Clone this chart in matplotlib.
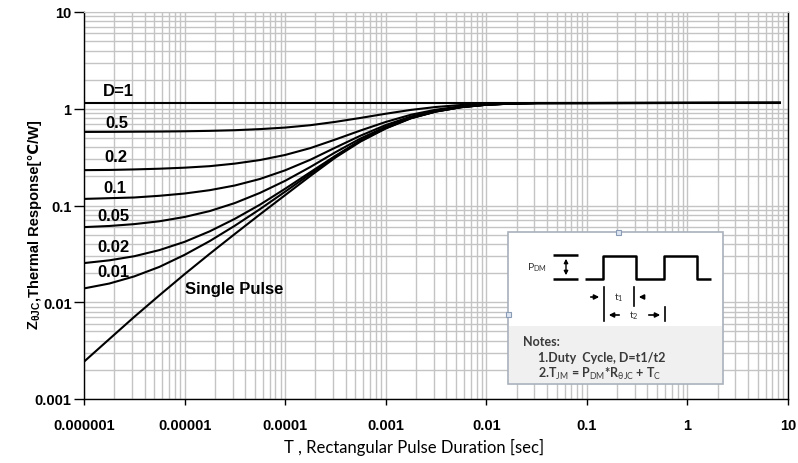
import matplotlib
matplotlib.use('Agg')
import matplotlib.pyplot as plt
from matplotlib.ticker import LogLocator, NullFormatter, FixedLocator, FixedFormatter
from matplotlib.patches import Rectangle

plt.rcParams['font.family'] = ['Liberation Sans', 'DejaVu Sans']
plt.rcParams['mathtext.fontset'] = 'custom'
plt.rcParams['mathtext.rm'] = 'Lato'
plt.rcParams['mathtext.bf'] = 'Liberation Sans:bold'
plt.rcParams['mathtext.fallback'] = 'stixsans'

# rectangular pulse duration [sec]
t = [1e-6, 1.78e-6, 3.16e-6, 5.62e-6, 1e-5, 1.78e-5, 3.16e-5, 5.62e-5, 1e-4, 1.78e-4,
     3.16e-4, 5.62e-4, 1e-3, 1.78e-3, 3.16e-3, 5.62e-3, 1e-2, 1.78e-2, 3.16e-2, 8.5]

# thermal response Z_thJC [C/W] for each duty cycle
z_d1 = [1.15] * 20
z_d05 = [0.576, 0.577, 0.579, 0.581, 0.585, 0.591, 0.600, 0.616, 0.639, 0.676,
         0.732, 0.804, 0.888, 0.973, 1.043, 1.094, 1.125, 1.141, 1.147, 1.15]
z_d02 = [0.232, 0.233, 0.236, 0.240, 0.246, 0.255, 0.271, 0.295, 0.333, 0.392,
         0.481, 0.596, 0.730, 0.867, 0.978, 1.060, 1.109, 1.135, 1.145, 1.15]
z_d01 = [0.117, 0.119, 0.121, 0.126, 0.133, 0.144, 0.161, 0.188, 0.231, 0.297,
         0.397, 0.527, 0.678, 0.831, 0.957, 1.048, 1.104, 1.133, 1.145, 1.15]
z_d005 = [0.0598, 0.0614, 0.0642, 0.0687, 0.0761, 0.0876, 0.106, 0.135, 0.180, 0.250,
          0.355, 0.493, 0.651, 0.814, 0.946, 1.043, 1.102, 1.132, 1.144, 1.15]
z_d002 = [0.0254, 0.0271, 0.0299, 0.0346, 0.0421, 0.0541, 0.0728, 0.102, 0.149, 0.221,
          0.326, 0.472, 0.636, 0.803, 0.939, 1.039, 1.100, 1.131, 1.144, 1.15]
z_d001 = [0.0139, 0.0156, 0.0185, 0.0232, 0.0309, 0.0429, 0.0618, 0.0917, 0.139, 0.212,
          0.322, 0.465, 0.630, 0.800, 0.937, 1.038, 1.100, 1.131, 1.144, 1.15]
z_single = [0.00243, 0.00415, 0.00706, 0.0118, 0.0195, 0.0317, 0.0508, 0.0810, 0.128, 0.202,
            0.313, 0.458, 0.625, 0.796, 0.935, 1.037, 1.099, 1.131, 1.144, 1.15]

curves = [z_d1, z_d05, z_d02, z_d01, z_d005, z_d002, z_d001, z_single]
labels = ['D=1', '0.5', '0.2', '0.1', '0.05', '0.02', '0.01', 'Single Pulse']
label_pos = [(1.55e-6, 1.55), (1.62e-6, 0.725), (1.58e-6, 0.323), (1.55e-6, 0.154),
             (1.35e-6, 0.0792), (1.35e-6, 0.0379), (1.35e-6, 0.0209), (1.0e-5, 0.0139)]

x_ticks = [1e-6, 1e-5, 1e-4, 1e-3, 1e-2, 1e-1, 1, 10]
x_ticklabels = ['0.000001', '0.00001', '0.0001', '0.001', '0.01', '0.1', '1', '10']
y_ticks = [1e-3, 1e-2, 1e-1, 1, 10]
y_ticklabels = ['0.001', '0.01', '0.1', '1', '10']

fig = plt.figure(figsize=(7.98, 4.64), dpi=100)
ax = fig.add_axes([84 / 798, 1 - 400 / 464, 704 / 798, 387 / 464])
ax.set_xscale('log')
ax.set_yscale('log')
ax.set_xlim(1e-6, 10)
ax.set_ylim(1e-3, 10)

for z in curves:
    ax.plot(t, z, color='black', lw=1.5, solid_capstyle='butt', solid_joinstyle='round', zorder=3)

for lab, (px, py) in zip(labels, label_pos):
    ax.text(px, py, lab, fontsize=12, fontweight='bold', ha='left', va='center', zorder=4)

ax.xaxis.set_major_locator(FixedLocator(x_ticks))
ax.xaxis.set_major_formatter(FixedFormatter(x_ticklabels))
ax.yaxis.set_major_locator(FixedLocator(y_ticks))
ax.yaxis.set_major_formatter(FixedFormatter(y_ticklabels))
ax.xaxis.set_minor_locator(LogLocator(base=10, subs=range(2, 10), numticks=20))
ax.yaxis.set_minor_locator(LogLocator(base=10, subs=range(2, 10), numticks=20))
ax.xaxis.set_minor_formatter(NullFormatter())
ax.yaxis.set_minor_formatter(NullFormatter())
ax.grid(True, which='both', color='#c4c4c4', lw=1.0, zorder=0)
ax.set_axisbelow(True)
ax.tick_params(which='minor', length=0)
ax.tick_params(axis='y', which='major', length=7, width=1, pad=2, labelsize=10.5)
ax.tick_params(axis='x', which='major', length=4, width=1, pad=10, labelsize=10.5)
for lab in ax.get_xticklabels() + ax.get_yticklabels():
    lab.set_fontweight('bold')
ax.spines['top'].set_color('#c4c4c4')
for s in ['left', 'bottom', 'right']:
    ax.spines[s].set_color('black')
    ax.spines[s].set_linewidth(1.0)

ax.set_xlabel('T , Rectangular Pulse Duration [sec]', fontsize=12, family=['Lato', 'DejaVu Sans'])
ax.xaxis.set_label_coords(0.469, -0.102)

# y label in two pieces: math subscript part, then plain text (so the degree-C sign falls back to DejaVu)
H = 464
W = 798
yk = dict(rotation=90, rotation_mode='anchor', ha='left', va='baseline', fontsize=10.5, fontweight='bold')
zt = fig.text(39 / W, 1 - 330 / H, r'$\mathbf{Z_{\theta JC}}$', **yk)
fig.canvas.draw()
zb = zt.get_window_extent(fig.canvas.get_renderer())
fig.text(39 / W, 1 - 330 / H + zb.height / H, ',Thermal Response[℃/W]',
         family=['Liberation Sans', 'DejaVu Sans'], **yk)

# inset with pulse sketch and notes, drawn in figure pixels
ov = fig.add_axes([0, 0, 1, 1], zorder=5)
ov.set_xlim(0, W)
ov.set_ylim(H, 0)
ov.axis('off')
ov.add_patch(Rectangle((508, 233), 215, 152, facecolor='white', edgecolor='#a9b0bc', lw=1.2))
ov.add_patch(Rectangle((509, 327), 213, 57, facecolor='#f0f0f0', edgecolor='none'))
for hx, hy in [(618, 233), (508, 315)]:
    ov.add_patch(Rectangle((hx - 2.5, hy - 2.5), 5, 5, facecolor='#dde6f2', edgecolor='#8a9bb5', lw=0.8))

lk = dict(color='black', lw=1.8, solid_capstyle='butt')
ov.plot([585, 603, 603, 636, 636, 664, 664, 697, 697, 711],
        [280, 280, 257, 257, 280, 280, 257, 257, 280, 280], **lk)
# P_DM height marker
ov.plot([553, 578], [256, 256], **lk)
ov.plot([553, 578], [280, 280], **lk)
ov.annotate('', xy=(566, 257), xytext=(566, 279),
            arrowprops=dict(arrowstyle='<|-|>', color='black', lw=1.0, mutation_scale=6))
ov.text(527, 268, r'P$_{\mathrm{DM}}$', fontsize=7.5, ha='left', va='center',
        family=['Lato', 'DejaVu Sans'], color='#333333')
# t1 / t2 dimension lines
ov.plot([604, 604], [288, 322], color='black', lw=1.2)
ov.plot([634, 634], [288, 307], color='black', lw=1.2)
ov.plot([665, 665], [308, 322], color='black', lw=1.2)
am = dict(arrowstyle='-|>', color='black', lw=1.2, mutation_scale=7)
ov.annotate('', xy=(602, 298), xytext=(588, 298), arrowprops=am)
ov.annotate('', xy=(636, 298), xytext=(647, 298), arrowprops=am)
ov.annotate('', xy=(606, 316), xytext=(622, 316), arrowprops=am)
ov.annotate('', xy=(663, 316), xytext=(646, 316), arrowprops=am)
ov.text(619, 298, r't$_{1}$', fontsize=7.5, ha='center', va='center', family=['Lato', 'DejaVu Sans'], color='#333333')
ov.text(634, 316, r't$_{2}$', fontsize=7.5, ha='center', va='center', family=['Lato', 'DejaVu Sans'], color='#333333')

nk = dict(fontsize=9, ha='left', va='center', family=['Lato', 'DejaVu Sans'], color='#3a3a3a', fontweight='bold')
ov.text(523, 342, 'Notes:', **nk)
ov.text(538, 358, '1.Duty  Cycle, D=t1/t2', **nk)
ov.text(538, 374, r'2.T$_{\mathrm{JM}}$ = P$_{\mathrm{DM}}$*R$_{\mathrm{\theta JC}}$ + T$_{\mathrm{C}}$', **nk)

fig.savefig('out.png', dpi=100)
